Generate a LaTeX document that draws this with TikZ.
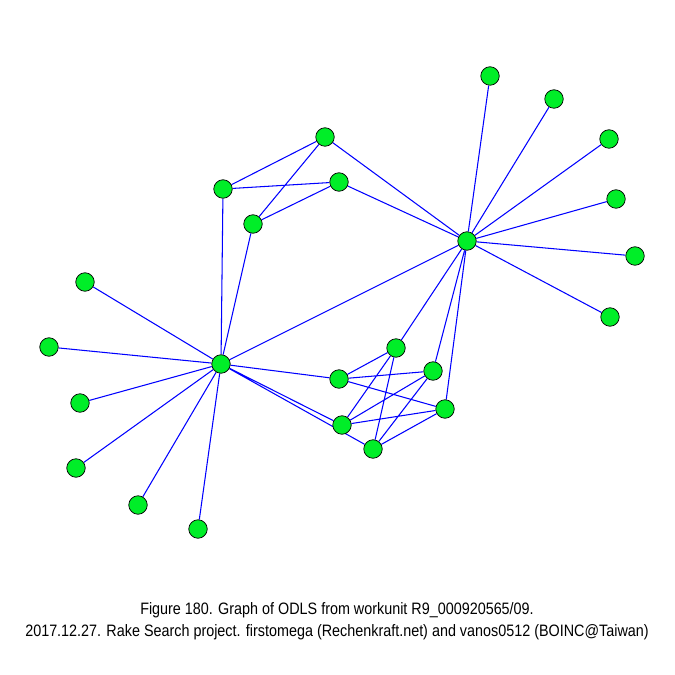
\documentclass[tikz,border=0pt]{standalone}
\usepackage{fontspec}
\setmainfont{Liberation Sans}
\usetikzlibrary{backgrounds}
\definecolor{nodegreen}{RGB}{0,238,40}
\definecolor{edgeblue}{RGB}{0,0,255}
\tikzset{
    vertex/.style={circle, draw=black, line width=0.4pt, fill=nodegreen, minimum size=0.37cm, inner sep=0pt},
    edge/.style={draw=edgeblue, line width=0.6pt},
    caption/.style={font=\fontsize{9.4}{11}\selectfont, xscale=0.87, align=center, inner sep=0pt}
}
\begin{document}
\begin{tikzpicture}[x=0.02cm, y=-0.02cm]
    \useasboundingbox (0, 0) rectangle (675, 675);

    % hubs
    \node[vertex] (hr) at (467, 241) {};
    \node[vertex] (hl) at (221, 364) {};

    % leaves of the right hub
    \node[vertex] (r1) at (490, 76) {};
    \node[vertex] (r2) at (554, 99) {};
    \node[vertex] (r3) at (609, 139) {};
    \node[vertex] (r4) at (616, 199) {};
    \node[vertex] (r5) at (635, 256) {};
    \node[vertex] (r6) at (610, 317) {};

    % leaves of the left hub
    \node[vertex] (l1) at (85, 282) {};
    \node[vertex] (l2) at (49, 347) {};
    \node[vertex] (l3) at (80, 403) {};
    \node[vertex] (l4) at (76, 468) {};
    \node[vertex] (l5) at (138, 505) {};
    \node[vertex] (l6) at (198, 529) {};

    % upper group
    \node[vertex] (ua) at (325, 137) {};
    \node[vertex] (ub) at (223, 189) {};
    \node[vertex] (uc) at (339, 182) {};
    \node[vertex] (ud) at (253, 224) {};

    % lower group
    \node[vertex] (le) at (396, 348) {};
    \node[vertex] (lf) at (339, 379) {};
    \node[vertex] (lg) at (433, 371) {};
    \node[vertex] (li) at (445, 409) {};
    \node[vertex] (lj) at (342, 425) {};
    \node[vertex] (lk) at (373, 449) {};

    \begin{scope}[on background layer]
        \draw[edge] (hr) -- (r1) (hr) -- (r2) (hr) -- (r3)
                    (hr) -- (r4) (hr) -- (r5) (hr) -- (r6);
        \draw[edge] (hl) -- (l1) (hl) -- (l2) (hl) -- (l3)
                    (hl) -- (l4) (hl) -- (l5) (hl) -- (l6);
        \draw[edge] (hl) -- (hr);
        \draw[edge] (ua) -- (ub) (ua) -- (ud) (ua) -- (hr)
                    (ub) -- (uc) (uc) -- (ud) (uc) -- (hr)
                    (ub) -- (hl) (ud) -- (hl);
        \draw[edge] (hr) -- (le) (hr) -- (lg) (hr) -- (li)
                    (hl) -- (lf) (hl) -- (lj) (hl) -- (lk);
        \draw[edge] (le) -- (lf) (le) -- (lj) (le) -- (lk)
                    (lf) -- (lg) (lf) -- (li)
                    (lg) -- (lj) (lg) -- (lk)
                    (lj) -- (li) (lk) -- (li);
    \end{scope}

    \node[caption] (cap1) at (337, 610) {Figure 180. Graph of ODLS from workunit R9\_000920565/09.};
    \node[caption] (cap2) at (337, 632) {2017.12.27. Rake Search project. firstomega (Rechenkraft.net) and vanos0512 (BOINC@Taiwan)};
\end{tikzpicture}
\end{document}
